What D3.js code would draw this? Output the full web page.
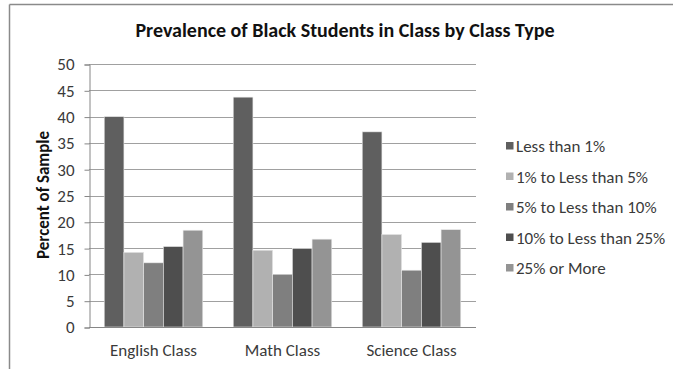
<!DOCTYPE html>
<html><head><meta charset="utf-8">
<script src="https://cdn.jsdelivr.net/npm/d3@7"></script>
<style>body{margin:0;background:#fff}svg{display:block}</style>
</head><body>
<svg id="c" width="673" height="369"></svg>
<script>
const categories = ["English Class", "Math Class", "Science Class"];
const seriesNames = ["Less than 1%", "1% to Less than 5%", "5% to Less than 10%", "10% to Less than 25%", "25% or More"];
const lessThan1 = [40.0, 43.7, 37.1];
const oneTo5 = [14.2, 14.6, 17.6];
const fiveTo10 = [12.2, 10.0, 10.8];
const tenTo25 = [15.3, 14.9, 16.1];
const over25 = [18.4, 16.7, 18.5];
const yTicks = [0, 5, 10, 15, 20, 25, 30, 35, 40, 45, 50];
const colors = ["#5f5f5f", "#b1b1b1", "#7f7f7f", "#4e4e4e", "#949494"];
const seriesValues = [lessThan1, oneTo5, fiveTo10, tenTo25, over25];

const font = "Calibri, Carlito, Lato, 'Open Sans', sans-serif";
const svg = d3.select("#c");
const pLeft = 89, pRight = 476, pTop = 64, pBottom = 327;

// outer border (top and left)
svg.append("line").attr("x1", 9.5).attr("x2", 673).attr("y1", 4.5).attr("y2", 4.5).attr("stroke", "#8a8a8a").attr("stroke-width", 1.5);
svg.append("line").attr("x1", 9.5).attr("x2", 9.5).attr("y1", 4.5).attr("y2", 369).attr("stroke", "#8a8a8a").attr("stroke-width", 1.5);

const x0 = d3.scaleBand().domain(categories).range([pLeft, pRight]).paddingInner(0.236).paddingOuter(0.118);
const x1 = d3.scaleBand().domain(seriesNames).range([0, x0.bandwidth()]);
const y = d3.scaleLinear().domain([0, 50]).range([pBottom, pTop]);

// gridlines
svg.append("g").selectAll("line").data(yTicks.filter(d => d > 0)).join("line")
  .attr("x1", pLeft).attr("x2", pRight)
  .attr("y1", d => Math.round(y(d)) + 0.5).attr("y2", d => Math.round(y(d)) + 0.5)
  .attr("stroke", "#a0a0a0").attr("stroke-width", 1);

// y axis
const yAxis = svg.append("g").attr("transform", `translate(${pLeft + 0.5},0.5)`)
  .call(d3.axisLeft(y).tickValues(yTicks).tickSize(5).tickPadding(10).tickFormat(d3.format("d")));
yAxis.select(".domain").attr("stroke", "#868686");
yAxis.selectAll(".tick line").attr("stroke", "#868686");
yAxis.selectAll("text").attr("fill", "#3a3a3a").style("font-family", font).style("font-size", "17px");

// bars
const groups = svg.append("g").selectAll("g").data(categories).join("g")
  .attr("transform", d => `translate(${x0(d)},0)`);
groups.selectAll("rect").data((c, i) => seriesNames.map((s, j) => ({ s, j, v: seriesValues[j][i] }))).join("rect")
  .attr("x", d => x1(d.s)).attr("width", x1.bandwidth())
  .attr("y", d => y(d.v)).attr("height", d => y(0) - y(d.v))
  .attr("fill", d => colors[d.j]).attr("stroke", "#e8e8e8").attr("stroke-width", 0.6);

// x axis baseline
svg.append("line").attr("x1", pLeft).attr("x2", pRight).attr("y1", pBottom + 0.5).attr("y2", pBottom + 0.5)
  .attr("stroke", "#868686");

// x labels
svg.append("g").selectAll("text").data(categories).join("text")
  .attr("x", d => x0(d) + x0.bandwidth() / 2).attr("y", 356)
  .attr("text-anchor", "middle").attr("fill", "#3a3a3a")
  .style("font-family", font).style("font-size", "17px").text(d => d);

// title
svg.append("text").attr("x", 345).attr("y", 37).attr("text-anchor", "middle")
  .attr("fill", "#111").style("font-family", font).style("font-size", "20px").style("font-weight", "bold")
  .text("Prevalence of Black Students in Class by Class Type");

// y title
svg.append("text").attr("transform", "translate(49,195) rotate(-90)").attr("text-anchor", "middle")
  .attr("fill", "#111").style("font-family", font).style("font-size", "17px").style("font-weight", "bold")
  .text("Percent of Sample");

// legend
const legend = svg.append("g").selectAll("g").data(seriesNames).join("g")
  .attr("transform", (d, i) => `translate(506,${146 + i * 30.5})`);
legend.append("rect").attr("x", 0).attr("y", -4).attr("width", 7.5).attr("height", 7.5).attr("fill", (d, i) => colors[i]);
legend.append("text").attr("x", 10).attr("y", 6).attr("fill", "#3a3a3a")
  .style("font-family", font).style("font-size", "17px").text(d => d);
</script>
</body></html>
